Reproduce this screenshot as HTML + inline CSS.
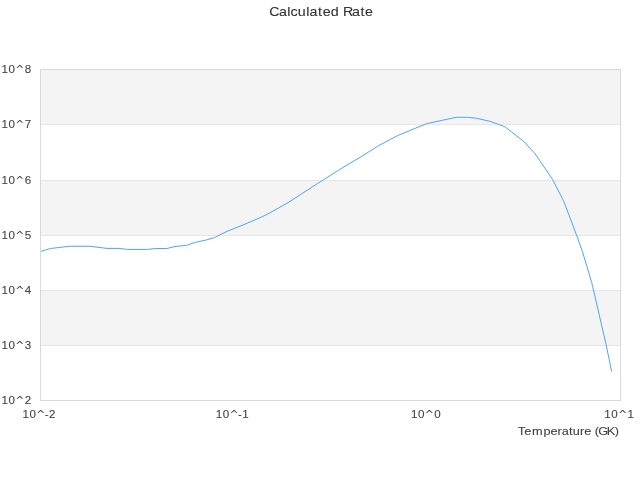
<!DOCTYPE html>
<html><head><meta charset="utf-8">
<style>
html,body{margin:0;padding:0;background:#fff;}
body{width:640px;height:480px;overflow:hidden;position:relative;font-family:"Liberation Sans",sans-serif;}
svg{position:absolute;left:0;top:0;will-change:transform;}
text{font-family:"Liberation Sans",sans-serif;}
</style></head><body>
<svg width="640" height="480" viewBox="0 0 640 480">
<rect x="0" y="0" width="640" height="480" fill="#ffffff"/>
<rect x="40" y="69" width="580" height="55" fill="#f4f4f4"/>
<rect x="40" y="180" width="580" height="55" fill="#f4f4f4"/>
<rect x="40" y="290" width="580" height="55" fill="#f4f4f4"/>
<g stroke="#e6e6e6" stroke-width="1" shape-rendering="crispEdges">
<line x1="40" x2="620" y1="124.5" y2="124.5"/>
<line x1="40" x2="620" y1="180.5" y2="180.5"/>
<line x1="40" x2="620" y1="235.5" y2="235.5"/>
<line x1="40" x2="620" y1="290.5" y2="290.5"/>
<line x1="40" x2="620" y1="345.5" y2="345.5"/>
</g>
<g stroke="#d9d9d9" stroke-width="1" shape-rendering="crispEdges">
<line x1="40" x2="621" y1="69.5" y2="69.5"/>
<line x1="40" x2="621" y1="400.5" y2="400.5"/>
<line x1="40.5" x2="40.5" y1="69" y2="401"/>
<line x1="620.5" x2="620.5" y1="69" y2="401"/>
</g>
<polyline fill="none" stroke="#52a3f5" stroke-width="1" stroke-linejoin="round" stroke-linecap="butt" points="41,251.3 50.5,248.5 61,247.25 69.75,246.25 89.75,246.25 107,248.4 118.75,248.4 127.5,249.4 147.5,249.4 156.25,248.5 166.9,248.5 175,246.5 186.25,245.4 195.6,242.3 205,240.3 214.4,237.7 217.5,236.1 226.9,231.4 242.5,225.2 258.1,218.6 267.5,214.2 288.8,202.2 307.5,190 324.4,179.2 345,166.2 360,157.4 378.75,145.6 397.5,135.6 426.8,123.6 456.25,117.3 467.5,117.3 476.25,118.25 490,121.3 505,126.8 524.3,141.9 535,153.7 552.6,179.5 563.75,201.25 576.5,235 582.5,251.7 591.7,282.5 595.8,300 606.2,345 611.7,371.7"/>
<g id="txt">
<text id="title" x="249.35 258.33 265.90 269.04 275.80 283.49 286.64 294.53 298.75 306.28 313.85 317.66 325.98 333.86 338.09" y="16" font-size="13.2" fill="#333333" stroke="#333333" stroke-width="0.1" transform="scale(1.08,1)">Calculated Rate</text>
<text x="1.47 8.47 24.69" y="73" font-size="11.6" fill="#444444" stroke="#444444" stroke-width="0.1">108</text><polygon fill="#444444" points="20.33,64.98 23.20,67.97 22.12,67.97 19.81,66.11 17.50,67.97 16.41,67.97 19.28,64.98"/>
<text x="1.47 8.47 24.69" y="128" font-size="11.6" fill="#444444" stroke="#444444" stroke-width="0.1">107</text><polygon fill="#444444" points="20.33,119.98 23.20,122.97 22.12,122.97 19.81,121.11 17.50,122.97 16.41,122.97 19.28,119.98"/>
<text x="1.47 8.47 24.69" y="184" font-size="11.6" fill="#444444" stroke="#444444" stroke-width="0.1">106</text><polygon fill="#444444" points="20.33,175.98 23.20,178.97 22.12,178.97 19.81,177.11 17.50,178.97 16.41,178.97 19.28,175.98"/>
<text x="1.47 8.47 24.69" y="239" font-size="11.6" fill="#444444" stroke="#444444" stroke-width="0.1">105</text><polygon fill="#444444" points="20.33,230.98 23.20,233.97 22.12,233.97 19.81,232.11 17.50,233.97 16.41,233.97 19.28,230.98"/>
<text x="1.47 8.47 24.69" y="294" font-size="11.6" fill="#444444" stroke="#444444" stroke-width="0.1">104</text><polygon fill="#444444" points="20.33,285.98 23.20,288.97 22.12,288.97 19.81,287.11 17.50,288.97 16.41,288.97 19.28,285.98"/>
<text x="1.47 8.47 24.69" y="349" font-size="11.6" fill="#444444" stroke="#444444" stroke-width="0.1">103</text><polygon fill="#444444" points="20.33,340.98 23.20,343.97 22.12,343.97 19.81,342.11 17.50,343.97 16.41,343.97 19.28,340.98"/>
<text x="1.47 8.47 24.69" y="404" font-size="11.6" fill="#444444" stroke="#444444" stroke-width="0.1">102</text><polygon fill="#444444" points="20.33,395.98 23.20,398.97 22.12,398.97 19.81,397.11 17.50,398.97 16.41,398.97 19.28,395.98"/>
<text x="22.38 29.38 44.78 48.97" y="418" font-size="11.6" fill="#444444" stroke="#444444" stroke-width="0.1">10-2</text><polygon fill="#444444" points="41.24,409.98 44.11,412.97 43.02,412.97 40.71,411.11 38.41,412.97 37.32,412.97 40.19,409.98"/>
<text x="215.71 222.71 238.11 242.30" y="418" font-size="11.6" fill="#444444" stroke="#444444" stroke-width="0.1">10-1</text><polygon fill="#444444" points="234.57,409.98 237.44,412.97 236.35,412.97 234.04,411.11 231.74,412.97 230.65,412.97 233.52,409.98"/>
<text x="411.04 418.04 434.25" y="418" font-size="11.6" fill="#444444" stroke="#444444" stroke-width="0.1">100</text><polygon fill="#444444" points="429.90,409.98 432.76,412.97 431.68,412.97 429.37,411.11 427.06,412.97 425.97,412.97 428.84,409.98"/>
<text x="604.37 611.37 627.58" y="418" font-size="11.6" fill="#444444" stroke="#444444" stroke-width="0.1">101</text><polygon fill="#444444" points="623.23,409.98 626.09,412.97 625.01,412.97 622.70,411.11 620.39,412.97 619.30,412.97 622.17,409.98"/>
<text id="xt" x="470.78 476.50 483.75 494.13 500.38 506.80 510.63 517.27 520.78 527.30 531.14 537.42 540.64 543.88 551.68 558.85" y="435" font-size="11.6" fill="#444444" stroke="#444444" stroke-width="0.1" transform="scale(1.1,1)">Temperature (GK)</text>
</g>
</svg>
</body></html>
